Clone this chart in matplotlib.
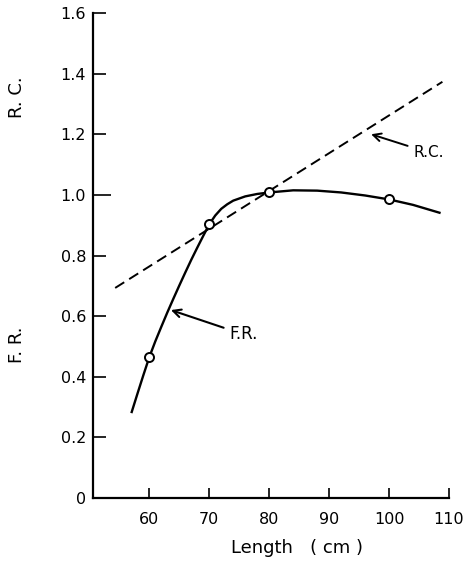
import matplotlib
matplotlib.use("Agg")
import matplotlib.pyplot as plt

# F.R. curve
frLength = [57, 58, 59, 60, 61, 62, 63, 64, 65, 66, 67, 68, 69, 70, 71, 72, 73, 74, 76, 78,
            80, 84, 88, 92, 96, 100, 104, 108.6]
frValue = [0.28, 0.343, 0.405, 0.465, 0.517, 0.565, 0.612, 0.657, 0.701, 0.744, 0.786, 0.826,
           0.865, 0.903, 0.932, 0.954, 0.969, 0.981, 0.995, 1.003,
           1.008, 1.015, 1.014, 1.008, 0.998, 0.985, 0.967, 0.94]

# observed points (open circles)
obsLength = [60, 70, 80, 100]
obsValue = [0.465, 0.905, 1.008, 0.985]

# R.C. straight line (dashed)
rcLength = [54.3, 108.9]
rcValue = [0.693, 1.373]

xTicks = [60, 70, 80, 90, 100, 110]
yTicks = [0, 0.2, 0.4, 0.6, 0.8, 1.0, 1.2, 1.4, 1.6]
yTickLabels = ["0", "0.2", "0.4", "0.6", "0.8", "1.0", "1.2", "1.4", "1.6"]

FONT = "DejaVu Sans"


def main():
    fig = plt.figure(figsize=(4.63, 5.74), dpi=100)
    ax = fig.add_axes([93 / 463, 1 - 498 / 574, 356 / 463, 485 / 574])

    ax.plot(rcLength, rcValue, color="black", lw=1.4, dashes=(5.5, 3))
    ax.plot(frLength, frValue, color="black", lw=1.7, solid_capstyle="butt",
            solid_joinstyle="round")
    ax.plot(obsLength, obsValue, linestyle="none", marker="o", ms=6.5,
            mfc="white", mec="black", mew=1.4, zorder=5)

    ax.set_xlim(50.6, 110)
    ax.set_ylim(0, 1.6)
    for side in ["top", "right"]:
        ax.spines[side].set_visible(False)
    for side in ["left", "bottom"]:
        ax.spines[side].set_linewidth(1.6)

    ax.set_xticks(xTicks)
    ax.set_xticklabels([str(t) for t in xTicks], family=FONT, fontsize=11.5)
    ax.set_yticks(yTicks)
    ax.set_yticklabels(yTickLabels, family=FONT, fontsize=11.5)
    ax.tick_params(axis="x", direction="in", length=7, width=1.2, pad=10)
    ax.tick_params(axis="y", direction="in", length=9.5, width=1.2, pad=5)
    # the 1.0 tick is drawn longer
    ax.yaxis.get_major_ticks()[5].tick1line.set_markersize(13)

    ax.annotate("F.R.", xy=(63.6, 0.62), xytext=(73.3, 0.54),
                fontsize=12, family=FONT, va="center", ha="left",
                arrowprops=dict(arrowstyle="->", lw=1.5, color="black",
                                shrinkA=2, shrinkB=0, mutation_scale=14))
    ax.annotate("R.C.", xy=(97, 1.2), xytext=(104.0, 1.14),
                fontsize=11, family=FONT, va="center", ha="left",
                arrowprops=dict(arrowstyle="->", lw=1.4, color="black",
                                shrinkA=2, shrinkB=0, mutation_scale=14))

    fig.text(17 / 463, 1 - 97 / 574, "R. C.", rotation=90, ha="center", va="center",
             fontsize=13, family=FONT)
    fig.text(17 / 463, 1 - 345 / 574, "F. R.", rotation=90, ha="center", va="center",
             fontsize=13, family=FONT)
    fig.text(297 / 463, 1 - 548 / 574, "Length   ( cm )", ha="center", va="center",
             fontsize=13, family=FONT)

    fig.savefig("out.png", dpi=100)


if __name__ == '__main__':
    main()
